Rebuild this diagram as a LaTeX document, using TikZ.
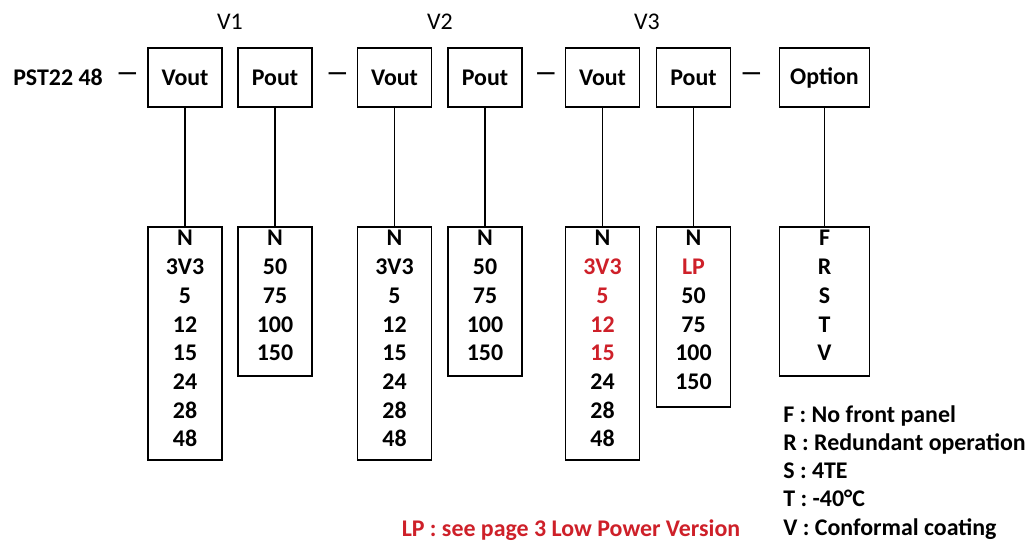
\documentclass[tikz,border=0pt]{standalone}
\usepackage{fontspec}
\setmainfont{Carlito}
\usepackage{xcolor}
\usetikzlibrary{positioning}
\definecolor{lpred}{RGB}{206,32,41}

\begin{document}
\begin{tikzpicture}[x=0.02cm, y=-0.02cm,
    field/.style={draw, line width=1.1pt, minimum height=1.18cm, minimum width=1.48cm, inner sep=0pt,
        font=\fontsize{13.6}{15}\selectfont\bfseries},
    codelist/.style={draw, line width=1.1pt, minimum width=1.48cm, inner sep=0pt, anchor=north, below=2.36cm of #1},
    entry/.style={anchor=base, inner sep=0pt, font=\fontsize{13.6}{15}\selectfont\bfseries},
    legend/.style={anchor=base west, inner sep=0pt, font=\fontsize{13.6}{15}\selectfont\bfseries}]
    \useasboundingbox (0,0) rectangle (1036,541);
    % Part number
    \node[entry, anchor=center] (pst) at (58,77) {PST22 48};
    \node[entry, anchor=center] (sepA) at (127.5,77) {—};
    \node[entry, anchor=center] (sepB) at (337.5,77) {—};
    \node[entry, anchor=center] (sepC) at (546,77) {—};
    \node[entry, anchor=center] (sepD) at (751.5,77) {—};
    % Output groups
    \node[font=\fontsize{13.6}{15}\selectfont] (v1lab) at (230,22) {V1};
    \node[font=\fontsize{13.6}{15}\selectfont] (v2lab) at (440,22) {V2};
    \node[font=\fontsize{13.6}{15}\selectfont] (v3lab) at (647,22) {V3};
    \node[field] (v1out) at (185,77.5) {Vout};
    \node[field] (p1out) at (275,77.5) {Pout};
    \node[field] (v2out) at (394.5,77.5) {Vout};
    \node[field] (p2out) at (485,77.5) {Pout};
    \node[field] (v3out) at (602.5,77.5) {Vout};
    \node[field] (p3out) at (693.5,77.5) {Pout};
    \node[field, minimum width=1.8cm] (optout) at (824.5,77.5) {Option};
    % Code lists
    \node[codelist=v1out, minimum height=4.66cm] (v1list) {};
    \node[codelist=p1out, minimum height=2.98cm] (p1list) {};
    \node[codelist=v2out, minimum height=4.66cm] (v2list) {};
    \node[codelist=p2out, minimum height=2.98cm] (p2list) {};
    \node[codelist=v3out, minimum height=4.66cm] (v3list) {};
    \node[codelist=p3out, minimum height=3.6cm] (p3list) {};
    \node[codelist=optout, minimum width=1.8cm, minimum height=2.98cm] (optlist) {};
    \foreach \a in {v1,p1,v2,p2,v3,p3,opt}
        \draw[line width=1.1pt] (\a out) -- (\a list);
    % Entries
    \foreach \t [count=\i] in {N,3V3,5,12,15,24,28,48}
        \node[entry] (v1row\i) at ([yshift={-0.4cm-0.574cm*(\i-1)}]v1list.north) {\t};
    \foreach \t [count=\i] in {N,50,75,100,150}
        \node[entry] (p1row\i) at ([yshift={-0.4cm-0.574cm*(\i-1)}]p1list.north) {\t};
    \foreach \t [count=\i] in {N,3V3,5,12,15,24,28,48}
        \node[entry] (v2row\i) at ([yshift={-0.4cm-0.574cm*(\i-1)}]v2list.north) {\t};
    \foreach \t [count=\i] in {N,50,75,100,150}
        \node[entry] (p2row\i) at ([yshift={-0.4cm-0.574cm*(\i-1)}]p2list.north) {\t};
    \foreach \t [count=\i] in {N,\textcolor{lpred}{3V3},\textcolor{lpred}{5},\textcolor{lpred}{12},\textcolor{lpred}{15},24,28,48}
        \node[entry] (v3row\i) at ([yshift={-0.4cm-0.574cm*(\i-1)}]v3list.north) {\t};
    \foreach \t [count=\i] in {N,\textcolor{lpred}{LP},50,75,100,150}
        \node[entry] (p3row\i) at ([yshift={-0.4cm-0.574cm*(\i-1)}]p3list.north) {\t};
    \foreach \t [count=\i] in {F,R,S,T,V}
        \node[entry] (optrow\i) at ([yshift={-0.4cm-0.574cm*(\i-1)}]optlist.north) {\t};
    % Notes
    \foreach \t [count=\i] in {F : No front panel,R : Redundant operation,S : 4TE,T : -40°C,V : Conformal coating}
        \node[legend] (note\i) at (783,{422+28.25*(\i-1)}) {\t};
    \node[legend, anchor=base, text=lpred] (lpnote) at (571,536) {LP : see page 3 Low Power Version};
\end{tikzpicture}
\end{document}
